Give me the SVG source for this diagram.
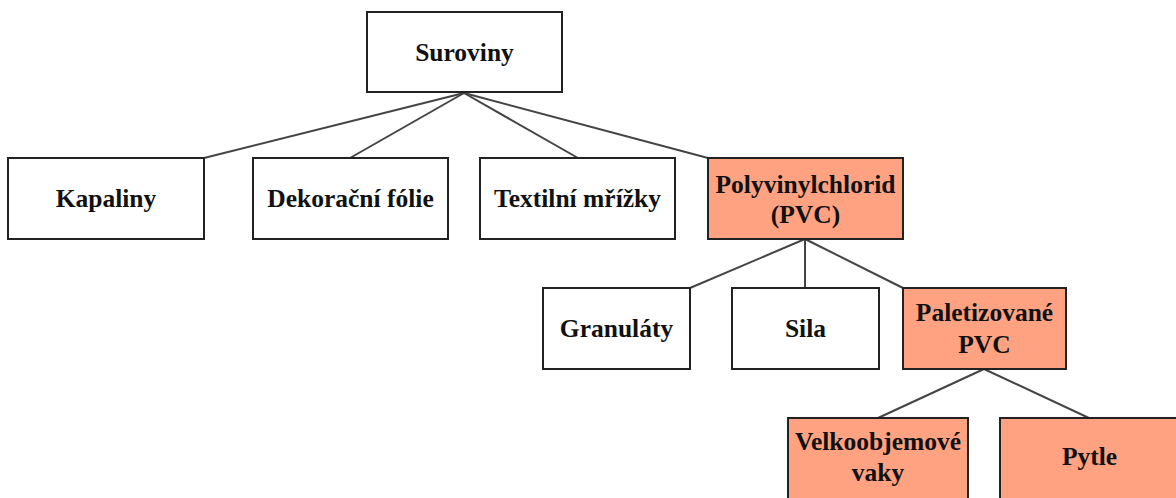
<svg xmlns="http://www.w3.org/2000/svg" width="1176" height="498" viewBox="0 0 1176 498">
  <style>
    .box { fill: #ffffff; stroke: #222222; stroke-width: 2; }
    .hl { fill: #ffa281; }
    .lbl { font-family: "Liberation Serif", "Times New Roman", serif; font-weight: bold; font-size: 25.5px; fill: #111111; text-anchor: middle; }
    .edge { stroke: #444444; stroke-width: 2; fill: none; }
  </style>
  <rect width="1176" height="498" fill="#ffffff"/>

  <!-- tree connectors -->
  <g id="connectors">
    <line class="edge" x1="464" y1="93" x2="204" y2="158"/>
    <line class="edge" x1="464" y1="93" x2="350" y2="158"/>
    <line class="edge" x1="464" y1="93" x2="578" y2="158"/>
    <line class="edge" x1="464" y1="93" x2="708" y2="158"/>
    <line class="edge" x1="805" y1="239" x2="690" y2="288"/>
    <line class="edge" x1="805" y1="239" x2="805" y2="288"/>
    <line class="edge" x1="805" y1="239" x2="903" y2="288"/>
    <line class="edge" x1="984" y1="369" x2="878" y2="418"/>
    <line class="edge" x1="984" y1="369" x2="1089" y2="418"/>
  </g>

  <g id="suroviny">
    <rect class="box" x="367" y="12" width="195" height="80"/>
    <text class="lbl" x="464.5" y="60.5">Suroviny</text>
  </g>

  <g id="kapaliny">
    <rect class="box" x="8" y="158" width="196" height="81"/>
    <text class="lbl" x="106" y="207">Kapaliny</text>
  </g>

  <g id="dekoracni-folie">
    <rect class="box" x="253" y="158" width="195" height="81"/>
    <text class="lbl" x="350.5" y="207">Dekorační fólie</text>
  </g>

  <g id="textilni-mrizky">
    <rect class="box" x="480" y="158" width="195" height="81"/>
    <text class="lbl" x="577.5" y="207">Textilní mřížky</text>
  </g>

  <g id="pvc">
    <rect class="box hl" x="708" y="158" width="195" height="81"/>
    <text class="lbl" x="805.5" y="192.5">Polyvinylchlorid</text>
    <text class="lbl" x="805.5" y="223">(PVC)</text>
  </g>

  <g id="granulaty">
    <rect class="box" x="543" y="288" width="147" height="81"/>
    <text class="lbl" x="616.5" y="337">Granuláty</text>
  </g>

  <g id="sila">
    <rect class="box" x="732" y="288" width="147" height="81"/>
    <text class="lbl" x="805.5" y="337">Sila</text>
  </g>

  <g id="paletizovane-pvc">
    <rect class="box hl" x="903" y="288" width="163" height="81"/>
    <text class="lbl" x="984.5" y="321">Paletizované</text>
    <text class="lbl" x="984.5" y="352.5">PVC</text>
  </g>

  <g id="velkoobjemove-vaky">
    <rect class="box hl" x="788" y="418" width="180" height="82"/>
    <text class="lbl" x="878" y="450">Velkoobjemové</text>
    <text class="lbl" x="878" y="481">vaky</text>
  </g>

  <g id="pytle">
    <rect class="box hl" x="1000" y="418" width="180" height="82"/>
    <text class="lbl" x="1089.5" y="465">Pytle</text>
  </g>
</svg>
